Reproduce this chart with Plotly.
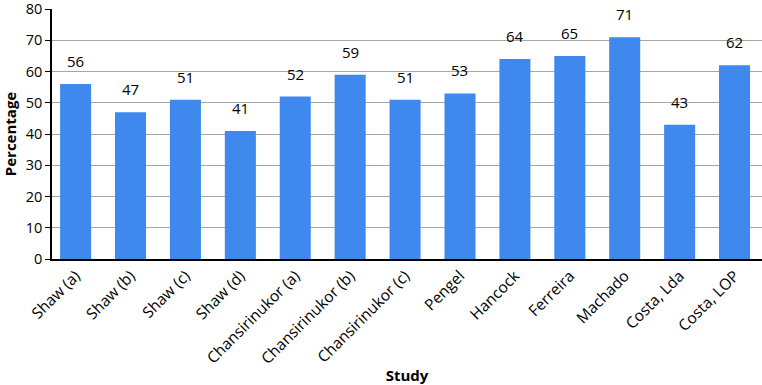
import plotly.graph_objects as go

studies = ["Shaw (a)", "Shaw (b)", "Shaw (c)", "Shaw (d)", "Chansirinukor (a)",
           "Chansirinukor (b)", "Chansirinukor (c)", "Pengel", "Hancock", "Ferreira",
           "Machado", "Costa, Lda", "Costa, LOP"]
percentages = [56, 47, 51, 41, 52, 59, 51, 53, 64, 65, 71, 43, 62]
y_ticks = [0, 10, 20, 30, 40, 50, 60, 70, 80]

font = "Open Sans, DejaVu Sans, sans-serif"

fig = go.Figure(go.Bar(
    x=studies, y=percentages,
    marker=dict(color="#3f88ee", line=dict(width=0)),
    cliponaxis=False,
))

for s, v in zip(studies, percentages):
    fig.add_annotation(x=s, y=v, text=str(v), showarrow=False, yshift=23,
                       font=dict(family=font, size=15, color="#000000"))

fig.update_layout(
    width=762, height=385,
    margin=dict(l=52, r=0, t=9, b=126),
    plot_bgcolor="white", paper_bgcolor="white",
    bargap=0.435, showlegend=False,
    font=dict(family=font, size=15, color="#000000"),
)
fig.update_xaxes(
    automargin=False, range=[-0.43, len(studies) - 0.5],
    tickangle=-45, showline=True, linecolor="#000000", linewidth=1.5,
    ticks="", tickfont=dict(family=font, size=15.5),
    title=dict(text="<b>Study</b>", font=dict(family=font, size=15), standoff=0),
)
fig.update_yaxes(
    automargin=False, ticklabeloverflow="allow",
    range=[0, 80.05], tickvals=y_ticks, showgrid=True, gridcolor="#a6a6a6", gridwidth=1,
    showline=True, linecolor="#000000", linewidth=1.5, ticks="outside", ticklen=5,
    tickcolor="#000000", tickfont=dict(family=font, size=14.5), zeroline=False,
    title=dict(text="<b>Percentage</b>", font=dict(family=font, size=15), standoff=8),
)

fig.write_html("out.html", config={"displayModeBar": False},
               post_script="document.body.style.margin='0';")
